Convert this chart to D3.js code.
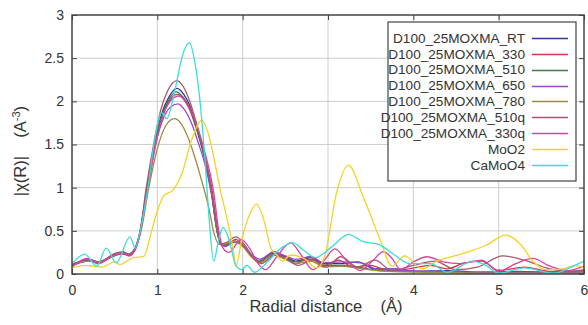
<!DOCTYPE html>
<html>
<head>
<meta charset="utf-8">
<script src="https://cdn.jsdelivr.net/npm/d3@7"></script>
<style>
  body { margin: 0; background: #fff; }
  text { font-family: 'Liberation Sans', Arial, sans-serif; fill: #333; }
</style>
</head>
<body>
<div id="chart"></div>
<script>
// series values: [radial distance, |chi(R)|]
const rt = [[0,0.1],[0.18,0.16],[0.3,0.13],[0.5,0.22],[0.6,0.25],[0.66,0.23],[0.74,0.3],[0.8,0.5],[0.88,1.0],[0.97,1.5],[1.05,1.85],[1.13,2.04],[1.23,2.15],[1.31,2.08],[1.38,1.95],[1.46,1.7],[1.53,1.45],[1.63,0.98],[1.7,0.5],[1.74,0.35],[1.8,0.33],[1.9,0.38],[1.98,0.35],[2.08,0.24],[2.18,0.14],[2.37,0.24],[2.5,0.2],[2.62,0.15],[2.8,0.19],[2.95,0.12],[3.15,0.12],[3.35,0.14],[3.55,0.06],[3.8,0.06],[4.0,0.03],[4.4,0.04],[4.8,0.02],[5.2,0.03],[5.6,0.02],[6,0.02]]
const s330 = [[0,0.11],[0.2,0.17],[0.32,0.13],[0.5,0.23],[0.6,0.24],[0.67,0.22],[0.74,0.29],[0.8,0.5],[0.88,1.0],[0.97,1.5],[1.05,1.82],[1.13,1.99],[1.23,2.08],[1.31,2.02],[1.38,1.9],[1.46,1.68],[1.54,1.42],[1.64,0.98],[1.71,0.5],[1.75,0.34],[1.8,0.33],[1.92,0.4],[2.0,0.34],[2.1,0.22],[2.2,0.14],[2.36,0.26],[2.5,0.2],[2.62,0.12],[2.78,0.2],[2.95,0.1],[3.12,0.16],[3.3,0.08],[3.5,0.1],[3.7,0.04],[3.95,0.06],[4.2,0.1],[4.4,0.06],[4.6,0.13],[4.8,0.15],[5.0,0.04],[5.3,0.08],[5.6,0.03],[6,0.04]]
const s510 = [[0,0.1],[0.2,0.15],[0.3,0.13],[0.5,0.21],[0.6,0.24],[0.66,0.22],[0.74,0.29],[0.8,0.5],[0.88,1.0],[0.97,1.5],[1.05,1.83],[1.13,2.01],[1.22,2.11],[1.3,2.05],[1.38,1.92],[1.46,1.68],[1.53,1.43],[1.63,0.96],[1.7,0.49],[1.74,0.35],[1.8,0.34],[1.9,0.38],[2.0,0.33],[2.1,0.22],[2.2,0.15],[2.36,0.23],[2.5,0.18],[2.62,0.14],[2.8,0.17],[2.95,0.1],[3.15,0.1],[3.35,0.08],[3.6,0.04],[3.9,0.03],[4.3,0.02],[4.8,0.01],[5.3,0.02],[6,0.01]]
const s650 = [[0,0.09],[0.2,0.16],[0.3,0.14],[0.5,0.22],[0.6,0.23],[0.67,0.21],[0.74,0.28],[0.8,0.48],[0.89,1.0],[0.98,1.5],[1.07,1.8],[1.15,1.93],[1.24,1.97],[1.32,1.9],[1.4,1.75],[1.48,1.52],[1.55,1.3],[1.64,0.9],[1.71,0.47],[1.75,0.33],[1.8,0.32],[1.9,0.37],[2.0,0.33],[2.1,0.23],[2.2,0.17],[2.36,0.25],[2.5,0.21],[2.62,0.17],[2.8,0.2],[2.95,0.13],[3.15,0.14],[3.38,0.13],[3.6,0.05],[3.9,0.04],[4.3,0.03],[4.8,0.02],[5.3,0.02],[6,0.02]]
const s780 = [[0,0.12],[0.2,0.15],[0.3,0.14],[0.5,0.22],[0.6,0.25],[0.67,0.23],[0.74,0.29],[0.81,0.5],[0.9,1.0],[1.0,1.45],[1.1,1.72],[1.2,1.8],[1.28,1.74],[1.36,1.58],[1.44,1.35],[1.52,1.08],[1.6,0.78],[1.67,0.45],[1.73,0.34],[1.8,0.35],[1.9,0.38],[2.0,0.32],[2.1,0.2],[2.2,0.13],[2.36,0.22],[2.5,0.17],[2.62,0.12],[2.8,0.15],[2.95,0.08],[3.15,0.09],[3.4,0.06],[3.7,0.03],[4.2,0.02],[5,0.01],[6,0.01]]
const s510q = [[0,0.11],[0.2,0.17],[0.32,0.14],[0.5,0.24],[0.6,0.26],[0.67,0.22],[0.74,0.3],[0.8,0.51],[0.87,1.0],[0.96,1.52],[1.04,1.9],[1.12,2.12],[1.23,2.24],[1.31,2.16],[1.38,2.0],[1.46,1.74],[1.53,1.48],[1.63,1.0],[1.7,0.5],[1.74,0.35],[1.8,0.36],[1.92,0.43],[2.02,0.34],[2.12,0.2],[2.22,0.12],[2.38,0.22],[2.5,0.18],[2.65,0.1],[2.82,0.16],[2.98,0.08],[3.15,0.2],[3.35,0.08],[3.55,0.16],[3.75,0.04],[4.0,0.1],[4.25,0.15],[4.5,0.05],[4.75,0.08],[5.05,0.21],[5.3,0.16],[5.6,0.06],[5.85,0.03],[6,0.05]]
const s330q = [[0,0.08],[0.18,0.18],[0.3,0.12],[0.5,0.22],[0.6,0.24],[0.67,0.21],[0.74,0.28],[0.8,0.48],[0.89,1.0],[0.98,1.5],[1.07,1.84],[1.15,2.0],[1.25,2.06],[1.33,2.0],[1.41,1.86],[1.49,1.64],[1.56,1.4],[1.66,0.95],[1.72,0.5],[1.77,0.3],[1.84,0.25],[1.98,0.4],[2.08,0.3],[2.18,0.12],[2.27,0.05],[2.4,0.2],[2.56,0.36],[2.7,0.2],[2.82,0.05],[2.95,0.15],[3.08,0.29],[3.22,0.15],[3.38,0.04],[3.52,0.15],[3.65,0.26],[3.75,0.18],[3.85,0.05],[4.0,0.14],[4.16,0.2],[4.35,0.14],[4.55,0.12],[4.8,0.16],[5.0,0.03],[5.2,0.12],[5.4,0.18],[5.6,0.09],[5.8,0.04],[6,0.09]]
const moo2 = [[0,0.07],[0.15,0.1],[0.35,0.08],[0.5,0.14],[0.56,0.11],[0.72,0.19],[0.84,0.2],[0.92,0.45],[0.99,0.7],[1.07,0.9],[1.19,0.98],[1.29,1.17],[1.4,1.55],[1.52,1.78],[1.59,1.65],[1.66,1.36],[1.73,1.01],[1.81,0.67],[1.89,0.28],[1.92,0.09],[1.99,0.4],[2.09,0.71],[2.16,0.81],[2.25,0.62],[2.33,0.3],[2.4,0.22],[2.47,0.15],[2.56,0.22],[2.72,0.18],[2.87,0.07],[2.96,0.2],[3.1,0.94],[3.24,1.26],[3.41,0.9],[3.61,0.4],[3.75,0.09],[3.9,0.21],[4.1,0.06],[4.3,0.16],[4.45,0.2],[4.65,0.26],[4.85,0.33],[5.08,0.45],[5.25,0.35],[5.4,0.15],[5.55,0.05],[5.75,0.06],[5.9,0.1],[6,0.07]]
const camoo4 = [[0,0.12],[0.15,0.23],[0.29,0.09],[0.4,0.3],[0.52,0.13],[0.68,0.43],[0.74,0.3],[0.8,0.5],[0.89,1.0],[0.96,1.5],[1.05,1.87],[1.11,1.8],[1.2,2.1],[1.3,2.55],[1.375,2.68],[1.44,2.45],[1.5,2.0],[1.56,1.3],[1.61,0.6],[1.66,0.15],[1.72,0.4],[1.77,0.54],[1.84,0.4],[1.92,0.1],[1.99,0.05],[2.05,0.1],[2.14,0.02],[2.3,0.15],[2.45,0.3],[2.59,0.36],[2.72,0.27],[2.85,0.19],[3.05,0.32],[3.24,0.46],[3.4,0.38],[3.6,0.34],[3.78,0.22],[3.95,0.12],[4.2,0.12],[4.4,0.02],[4.7,0.15],[4.85,0.1],[5.0,0.01],[5.3,0.07],[5.65,0.01],[5.85,0.08],[6,0.15]]

const seriesNames = ['D100_25MOXMA_RT', 'D100_25MOXMA_330', 'D100_25MOXMA_510', 'D100_25MOXMA_650', 'D100_25MOXMA_780', 'D100_25MOXMA_510q', 'D100_25MOXMA_330q', 'MoO2', 'CaMoO4']
const seriesData = [rt, s330, s510, s650, s780, s510q, s330q, moo2, camoo4]
const seriesColors = ['#34349c', '#d2364a', '#3f7d4c', '#9b45c9', '#9c8c45', '#a45a68', '#d942a2', '#f5d224', '#3adcdc']
const xTicks = [0, 1, 2, 3, 4, 5, 6]
const yTicks = [0, 0.5, 1, 1.5, 2, 2.5, 3]

const margin = { top: 15, left: 72, right: 4, bottom: 51 }
const width = 588 - margin.left - margin.right
const height = 325 - margin.top - margin.bottom

const svg = d3
  .select('#chart')
  .append('svg')
  .attr('width', 588)
  .attr('height', 325)
  .append('g')
  .attr('transform', 'translate(' + margin.left + ',' + margin.top + ')')

const x = d3.scaleLinear().domain([0, 6]).range([0, width])
const y = d3.scaleLinear().domain([0, 3]).range([height, 0])

// grid
svg
  .append('g')
  .selectAll('line')
  .data(xTicks.slice(1, -1))
  .join('line')
  .attr('x1', d => x(d))
  .attr('x2', d => x(d))
  .attr('y1', 0)
  .attr('y2', height)
  .attr('stroke', '#c8c8c8')
  .attr('stroke-width', 0.9)

svg
  .append('g')
  .selectAll('line')
  .data(yTicks.slice(1, -1))
  .join('line')
  .attr('x1', 0)
  .attr('x2', width)
  .attr('y1', d => y(d))
  .attr('y2', d => y(d))
  .attr('stroke', '#c8c8c8')
  .attr('stroke-width', 0.9)

// axes with inward ticks on all sides
const xAxis = g =>
  g
    .attr('transform', `translate(0,${height})`)
    .call(d3.axisBottom(x).tickValues(xTicks).tickFormat(d3.format('d')).tickSizeInner(-5).tickSizeOuter(0).tickPadding(11))
    .call(g => g.select('.domain').remove())
    .call(g => g.selectAll('.tick line').attr('stroke', '#444'))
    .call(g => g.selectAll('text').style('font-size', '14px').attr('fill', '#333'))

const yAxis = g =>
  g
    .call(d3.axisLeft(y).tickValues(yTicks).tickFormat(d => d).tickSizeInner(-5).tickSizeOuter(0).tickPadding(8))
    .call(g => g.select('.domain').remove())
    .call(g => g.selectAll('.tick line').attr('stroke', '#444'))
    .call(g => g.selectAll('text').style('font-size', '14px').attr('fill', '#333'))

svg.append('g').call(xAxis)
svg.append('g').call(yAxis)

svg
  .append('g')
  .call(d3.axisTop(x).tickValues(xTicks).tickFormat('').tickSizeInner(-5).tickSizeOuter(0))
  .call(g => g.select('.domain').remove())
  .call(g => g.selectAll('.tick line').attr('stroke', '#444'))

svg
  .append('g')
  .attr('transform', `translate(${width},0)`)
  .call(d3.axisRight(y).tickValues(yTicks).tickFormat('').tickSizeInner(-5).tickSizeOuter(0))
  .call(g => g.select('.domain').remove())
  .call(g => g.selectAll('.tick line').attr('stroke', '#444'))

// curves
svg
  .append('clipPath')
  .attr('id', 'plot-clip')
  .append('rect')
  .attr('width', width)
  .attr('height', height)

const line = d3
  .line()
  .x(d => x(d[0]))
  .y(d => y(d[1]))
  .curve(d3.curveMonotoneX)

svg
  .append('g')
  .attr('clip-path', 'url(#plot-clip)')
  .selectAll('path')
  .data(seriesData)
  .join('path')
  .attr('d', line)
  .attr('fill', 'none')
  .attr('stroke', (d, i) => seriesColors[i])
  .attr('stroke-width', 1.3)

// frame
svg
  .append('rect')
  .attr('width', width)
  .attr('height', height)
  .attr('fill', 'none')
  .attr('stroke', '#444')
  .attr('stroke-width', 1.5)

// legend
const legend = svg.append('g').attr('transform', `translate(${388 - margin.left},${22 - margin.top})`)

legend
  .append('rect')
  .attr('width', 188)
  .attr('height', 159)
  .attr('fill', '#fff')
  .attr('stroke', '#444')
  .attr('stroke-width', 1.2)

legend
  .selectAll('.legend-text')
  .data(seriesNames)
  .join('text')
  .attr('class', 'legend-text')
  .attr('x', 137)
  .attr('y', (d, i) => 16 + i * 15.85)
  .attr('dy', '0.35em')
  .attr('text-anchor', 'end')
  .style('font-size', '13.6px')
  .text(d => d)

legend
  .selectAll('.legend-line')
  .data(seriesColors)
  .join('path')
  .attr('class', 'legend-line')
  .attr('d', (d, i) => `M144,${Math.round(16 + i * 15.85) + 0.5}H180`)
  .attr('fill', 'none')
  .style('stroke', d => d)
  .style('stroke-width', '1.3px')

// axis titles
svg
  .append('text')
  .attr('x', 326 - margin.left)
  .attr('y', 312 - margin.top)
  .attr('text-anchor', 'middle')
  .style('font-size', '16.5px')
  .text('Radial distance\u00a0\u00a0\u00a0\u00a0(Å)')

const yTitle = svg
  .append('text')
  .attr('transform', `translate(${26 - margin.left},${151 - margin.top}) rotate(-90)`)
  .attr('text-anchor', 'middle')
  .style('font-size', '16.5px')

yTitle.append('tspan').text('|χ(R)|\u00a0\u00a0\u00a0\u00a0(A')
yTitle
  .append('tspan')
  .attr('dy', -6)
  .style('font-size', '11px')
  .text('-3')
yTitle
  .append('tspan')
  .attr('dy', 6)
  .text(')')
</script>
</body>
</html>
